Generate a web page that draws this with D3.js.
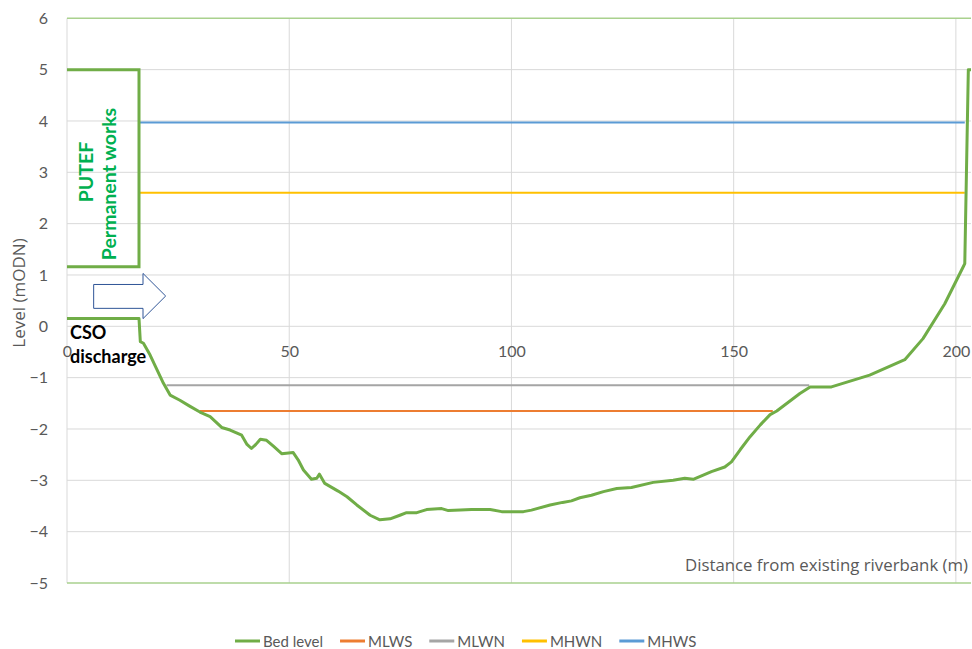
<!DOCTYPE html>
<html>
<head>
<meta charset="utf-8">
<script src="https://cdn.jsdelivr.net/npm/d3@7"></script>
<style>
    body { margin: 0; background: #fff; }
    svg { display: block; font-family: Lato, "Open Sans", sans-serif; }
</style>
</head>
<body>
<div id="chart"></div>
<script>
// Bed level profile (distance m, level mODN)
const bedX = [0, 16.2, 16.5, 17.2, 18.7, 20.0, 21.7, 23.2, 25.4, 27.5, 29.9, 32.2, 34.8, 36.7, 39.3, 40.5, 41.5, 42.5, 43.5, 44.9,
    46.5, 48.3, 50.9, 52.0, 53.2, 55.0, 56.2, 56.8, 58.0, 61.0, 63.0, 65.2, 68.2, 70.4, 72.7, 74.9, 76.4, 78.7, 80.9, 84.3,
    85.8, 88.5, 91.0, 95.2, 97.8, 102.7, 104.5, 108.7, 111.5, 113.5, 115.4, 118.0, 120.7, 123.7, 127.0, 131.9, 136.4, 139.0, 140.9, 145.0,
    148.0, 149.5, 151.5, 153.7, 156.0, 158.2, 159.7, 164.9, 167.2, 172.0, 180.6, 188.5, 192.6, 197.5, 201.6, 202.0, 202.8, 203.4];
const bedY = [0.15, 0.15, -0.30, -0.33, -0.56, -0.80, -1.11, -1.34, -1.44, -1.55, -1.67, -1.76, -1.97, -2.02, -2.12, -2.30, -2.38, -2.30, -2.20, -2.22,
    -2.34, -2.48, -2.46, -2.60, -2.80, -2.98, -2.96, -2.88, -3.06, -3.21, -3.32, -3.48, -3.68, -3.77, -3.75, -3.68, -3.63, -3.63, -3.57, -3.55,
    -3.59, -3.58, -3.57, -3.57, -3.61, -3.61, -3.58, -3.48, -3.43, -3.40, -3.34, -3.29, -3.22, -3.16, -3.14, -3.04, -3.00, -2.96, -2.98, -2.83,
    -2.74, -2.64, -2.40, -2.15, -1.92, -1.72, -1.65, -1.31, -1.18, -1.18, -0.95, -0.65, -0.24, 0.44, 1.15, 1.22, 5.0, 5.0];

// PUTEF permanent works outline
const putefX = [0, 16.2, 16.2, 0];
const putefY = [5, 5, 1.16, 1.16];

// Tide levels
const tideNames = ["MLWS", "MLWN", "MHWN", "MHWS"];
const tideLevels = [-1.65, -1.15, 2.60, 3.97];
const tideStart = [29.9, 22.4, 16.2, 16.2];
const tideEnd = [158.8, 167.0, 202.0, 202.0];
const tideColors = ["#ED7D31", "#A5A5A5", "#FFC000", "#5B9BD5"];

// CSO discharge arrow outline
const arrowX = [6.0, 17.1, 17.1, 22.2, 17.1, 17.1, 6.0];
const arrowY = [0.815, 0.815, 1.03, 0.59, 0.15, 0.35, 0.35];

const xTicks = [0, 50, 100, 150, 200];
const yTicks = [-5, -4, -3, -2, -1, 0, 1, 2, 3, 4, 5, 6];

const W = 972, H = 649;
const margin = { left: 67, right: 1, top: 18.3, bottom: 66 };
const bedColor = "#70AD47";
const textColor = "#595959";

const svg = d3.select("#chart")
    .append("svg")
    .attr("width", W)
    .attr("height", H);

const x = d3.scaleLinear().domain([0, 203.4]).range([margin.left, W - margin.right]);
const y = d3.scaleLinear().domain([-5, 6]).range([H - margin.bottom, margin.top]);

// gridlines
svg.append("g")
    .selectAll("line")
    .data(xTicks)
    .join("line")
    .attr("x1", d => x(d)).attr("x2", d => x(d))
    .attr("y1", y(6)).attr("y2", y(-5))
    .attr("stroke", "#d9d9d9")
    .attr("stroke-width", 1);

svg.append("g")
    .selectAll("line")
    .data(yTicks)
    .join("line")
    .attr("x1", x(0)).attr("x2", W - margin.right)
    .attr("y1", d => y(d)).attr("y2", d => y(d))
    .attr("stroke", d => (d == 6 || d == -5) ? "#A9D18E" : "#d9d9d9")
    .attr("stroke-width", d => (d == 6 || d == -5) ? 1.5 : 1);

// axes
svg.append("g")
    .attr("transform", "translate(" + x(0) + ",0)")
    .call(d3.axisLeft(y).tickValues(yTicks).tickSize(0).tickPadding(19).tickFormat(d3.format("d")))
    .call(g => g.select(".domain").remove())
    .call(g => g.selectAll("text").attr("fill", textColor).style("font-size", "16px").style("font-family", "Lato, sans-serif"));

svg.append("g")
    .attr("transform", "translate(0," + y(0) + ")")
    .call(d3.axisBottom(x).tickValues(xTicks).tickSize(0).tickPadding(19.5).tickFormat(d3.format("d")))
    .call(g => g.select(".domain").remove())
    .call(g => g.selectAll("text").attr("fill", textColor).style("font-size", "16px").style("font-family", "Lato, sans-serif"));

// tide lines
tideNames.forEach((name, i) => {
    svg.append("line")
        .attr("x1", x(tideStart[i])).attr("x2", x(tideEnd[i]))
        .attr("y1", y(tideLevels[i])).attr("y2", y(tideLevels[i]))
        .attr("stroke", tideColors[i])
        .attr("stroke-width", 2);
});

const line = d3.line()
    .x(d => x(d[0]))
    .y(d => y(d[1]));

svg.append("path")
    .datum(putefX.map((d, i) => [d, putefY[i]]))
    .attr("d", line)
    .attr("fill", "none")
    .attr("stroke", bedColor)
    .attr("stroke-width", 3);

svg.append("path")
    .datum(bedX.map((d, i) => [d, bedY[i]]))
    .attr("d", line)
    .attr("fill", "none")
    .attr("stroke", bedColor)
    .attr("stroke-width", 3)
    .attr("stroke-linejoin", "round");

svg.append("path")
    .datum(arrowX.map((d, i) => [d, arrowY[i]]))
    .attr("d", d => line(d) + "Z")
    .attr("fill", "#fff")
    .attr("stroke", "#2F5597")
    .attr("stroke-width", 1);

// annotations
const ann = svg.append("g")
    .attr("font-weight", "bold")
    .attr("fill", "#00B050")
    .style("font-size", "19.5px");
ann.append("text")
    .attr("transform", "translate(85,172) rotate(-90)")
    .attr("text-anchor", "middle")
    .attr("dominant-baseline", "central")
    .text("PUTEF");
ann.append("text")
    .attr("transform", "translate(108,184) rotate(-90)")
    .attr("text-anchor", "middle")
    .attr("dominant-baseline", "central")
    .text("Permanent works");

svg.append("text")
    .attr("x", 70).attr("y", 339)
    .attr("font-weight", "bold")
    .style("font-size", "18px")
    .text("CSO");
svg.append("text")
    .attr("x", 70).attr("y", 363)
    .attr("font-weight", "bold")
    .style("font-size", "18px")
    .text("discharge");

// axis titles
svg.append("text")
    .attr("transform", "translate(18,293) rotate(-90)")
    .attr("text-anchor", "middle")
    .attr("dominant-baseline", "central")
    .attr("fill", textColor)
    .style("font-family", "'Open Sans', sans-serif")
    .style("font-size", "17px")
    .text("Level (mODN)");

svg.append("text")
    .attr("x", 968).attr("y", 571)
    .attr("text-anchor", "end")
    .attr("fill", textColor)
    .style("font-family", "'Open Sans', sans-serif")
    .style("font-size", "16.8px")
    .text("Distance from existing riverbank (m)");

// legend
const legendNames = ["Bed level"].concat(tideNames);
const legendColors = [bedColor].concat(tideColors);
let lx = 235;
const legend = svg.append("g");
legendNames.forEach((name, i) => {
    legend.append("line")
        .attr("x1", lx).attr("x2", lx + 25)
        .attr("y1", 641).attr("y2", 641)
        .attr("stroke", legendColors[i])
        .attr("stroke-width", 3);
    const t = legend.append("text")
        .attr("x", lx + 28).attr("y", 641)
        .attr("dominant-baseline", "central")
        .attr("fill", textColor)
        .style("font-size", "15px")
        .text(name);
    lx += 28 + t.node().getComputedTextLength() + 17;
});
</script>
</body>
</html>
